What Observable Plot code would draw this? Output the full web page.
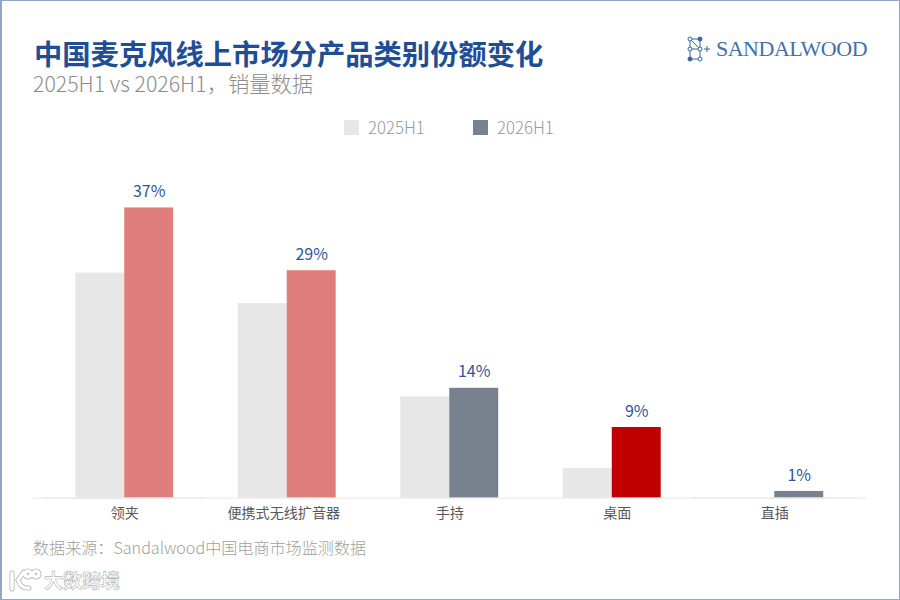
<!DOCTYPE html>
<html lang="zh"><head><meta charset="utf-8">
<script src="https://cdn.jsdelivr.net/npm/d3@7"></script>
<script src="https://cdn.jsdelivr.net/npm/@observablehq/plot@0.6"></script>
<style>
html,body{margin:0;padding:0;background:#fff}
#page{position:relative;width:900px;height:600px;overflow:hidden;box-sizing:border-box;border:1px solid #8fa8c8;border-left-width:2px;background:#fff;font-family:"Noto Sans CJK SC","Noto Sans",sans-serif}
#page>*{position:absolute}
#title{left:32px;top:38px;font-size:28.3px;font-weight:700;color:#1F4E96;line-height:28px;white-space:nowrap}
#sub{left:31px;top:70px;font-size:21.3px;font-weight:300;color:#8c8c8c;line-height:24px;white-space:nowrap}
#logo{left:685px;top:33px;display:flex;align-items:center;color:#4470A8}
#logo span{font-family:"Liberation Serif",serif;font-size:22px;letter-spacing:-.5px;margin-left:3px;line-height:30px}
.lg{top:116px;display:flex;align-items:center;font-size:16.8px;font-weight:300;color:#999;line-height:20px}
.lg i{display:inline-block;width:15px;height:15px;margin-right:9px}
#chart{left:-2px;top:139px}
#src{left:31px;top:534px;font-size:16.1px;font-weight:300;color:#a0a0a0;line-height:24px;white-space:nowrap}
#wm{left:6px;top:566px;font-size:19px;font-weight:700;color:#fff;-webkit-text-stroke:.6px #b4b4b4;line-height:26px;white-space:nowrap;display:flex;align-items:center}
#wm svg{margin-right:2px}
</style></head><body>
<div id="page">
<div id="title">中国麦克风线上市场分产品类别份额变化</div>
<div id="sub">2025H1 vs 2026H1，销量数据</div>
<div id="logo"><svg width="26" height="26" viewBox="0 0 26 26" fill="none" stroke="#3A659F" stroke-width="1">
<path d="M3 3H13M3 13H13M3 23H13M3 3L13 13M3 13V23M13 13V23M3 3V13M13 3V13"/>
<circle cx="3" cy="3" r="2" fill="#fff"/><circle cx="13" cy="3" r="2" fill="#3A659F"/><circle cx="3" cy="13" r="2" fill="#fff"/><circle cx="13" cy="13" r="2" fill="#fff"/><circle cx="3" cy="23" r="2" fill="#3A659F"/><circle cx="13" cy="23" r="2" fill="#fff"/>
<path d="M17 13H23M20 10V16"/></svg><span>SANDALWOOD</span></div>
<div class="lg" style="left:342px"><i style="background:#E7E7E7"></i>2025H1</div>
<div class="lg" style="left:471px"><i style="background:#78818E"></i>2026H1</div>
<div id="chart"></div>
<div id="src">数据来源：Sandalwood中国电商市场监测数据</div>
<div id="wm"><svg width="34" height="24" viewBox="0 0 34 24" fill="none" stroke-linecap="round">
<g stroke="#b4b4b4" stroke-width="5"><path d="M4 5V21M16 4L10 12Q13 21 21 20"/><circle cx="20" cy="6" r="3"/><circle cx="28" cy="6" r="3"/></g>
<g stroke="#fff" stroke-width="3.4"><path d="M4 5V21M16 4L10 12Q13 21 21 20"/><circle cx="20" cy="6" r="3"/><circle cx="28" cy="6" r="3"/></g></svg>大数跨境</div>
</div>
<script>
const categories = ["领夹","便携式无线扩音器","手持","桌面","直插"];
const values2025 = [28.7,24.8,12.9,3.8,0];
const values2026 = [37,29,14,9,0.85];
const labels2026 = ["37%","29%","14%","9%","1%"];
const colors2026 = ["#E07E7E","#E07E7E","#78818E","#C00000","#78818E"];
const color2025 = "#E7E7E7";
const rows2025 = categories.map((c,i)=>({c,s:"2025H1",v:values2025[i],col:color2025}));
const rows2026 = categories.map((c,i)=>({c,s:"2026H1",v:values2026[i],col:colors2026[i],label:labels2026[i]}));
const tickStyle = {fx:d=>d,text:d=>d,frameAnchor:"bottom",lineAnchor:"middle",dy:15,fontSize:14.1,fill:"#595959"};
const chart = Plot.plot({
  width:900,height:390,
  marginTop:0,marginBottom:32,marginLeft:43,marginRight:43.5,
  style:{fontFamily:'"Noto Sans CJK SC",sans-serif',background:"transparent"},
  y:{domain:[0,45.6],axis:null},
  x:{domain:["2025H1","2026H1"],axis:null,paddingInner:0,paddingOuter:0.66,round:false},
  fx:{domain:categories,label:null,axis:null,padding:0,round:false},
  marks:[
    Plot.text([categories[0],categories[2],categories[4]],tickStyle),
    Plot.text([categories[1]],{...tickStyle,dx:-3.5}),
    Plot.text([categories[3]],{...tickStyle,dx:5}),
    Plot.barY([...rows2025,...rows2026].filter(d=>d.v>0),{fx:"c",x:"s",y:"v",fill:"col"}),
    Plot.text(rows2026,{fx:"c",x:"s",y:"v",text:"label",dy:-16,fontSize:16,fill:"#2F5597"}),
    Plot.ruleY([0],{stroke:"#e6e6e6",strokeWidth:1}),
    Plot.ruleY([{c:categories[0]}],{fx:"c",y:()=>0,stroke:"#e6e6e6",strokeWidth:1,insetLeft:-10}),
    Plot.ruleY([{c:categories[4]}],{fx:"c",y:()=>0,stroke:"#e6e6e6",strokeWidth:1,insetRight:-11})
  ]
});
document.getElementById("chart").appendChild(chart);
</script>
</body></html>
